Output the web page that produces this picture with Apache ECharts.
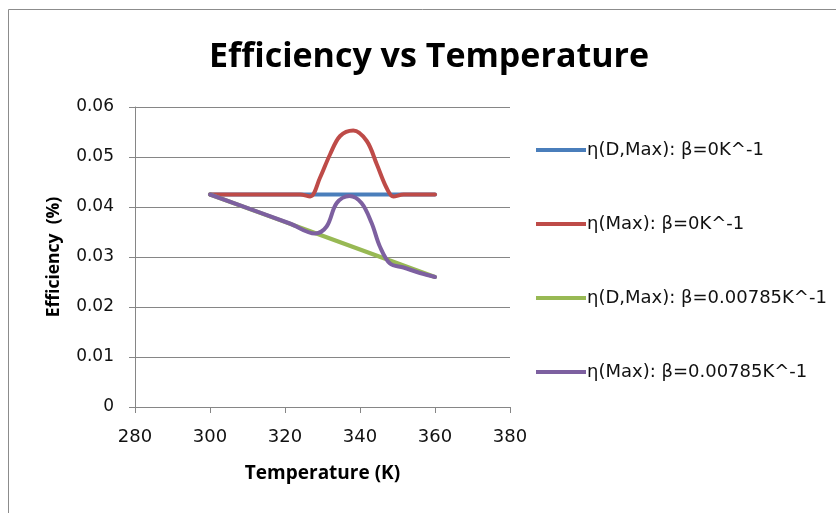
<!DOCTYPE html>
<html><head><meta charset="utf-8">
<script src="https://cdn.jsdelivr.net/npm/echarts@6/dist/echarts.min.js"></script>
<style>html,body{margin:0;padding:0;background:#fff}#c{width:836px;height:513px}</style>
</head><body><div id="c"></div>
<script>
const seriesNames = ['η(D,Max): β=0K^-1','η(Max): β=0K^-1','η(D,Max): β=0.00785K^-1','η(Max): β=0.00785K^-1'];
const colors = ['#4a7ebb','#be4b48','#98b954','#7d60a0'];
const tBlue = [300, 328, 338, 349, 360];
const eBlue = [0.0425, 0.0425, 0.0425, 0.0425, 0.0425];
const tRed = [300, 321, 324, 326.7, 329.3, 332, 334.7, 338.2, 341.8, 344.5, 347.1, 348.9, 351.6, 360];
const eRed = [0.0425, 0.0425, 0.0425, 0.0421, 0.0458, 0.0505, 0.0542, 0.0553, 0.0532, 0.0485, 0.0438, 0.0421, 0.0425, 0.0425];
const tGreen = [300, 328, 348, 360];
const eGreen = [0.0425, 0.0348, 0.0293, 0.0260];
const tPurple = [300, 321.3, 328, 331.1, 333.8, 337.2, 340.4, 343.1, 345.3, 348, 351.6, 356, 360];
const ePurple = [0.0425, 0.0367, 0.0347, 0.0361, 0.0408, 0.0422, 0.0408, 0.0368, 0.0321, 0.0287, 0.0279, 0.0268, 0.0260];
const xTicks = [280, 300, 320, 340, 360, 380];
const yTicks = [0, 0.01, 0.02, 0.03, 0.04, 0.05, 0.06];

const pairs = (t, e) => t.map((x, i) => [x, e[i]]);
const allT = [tBlue, tRed, tGreen, tPurple];
const allE = [eBlue, eRed, eGreen, ePurple];
const order = [0, 1, 2, 3];

const chart = echarts.init(document.getElementById('c'), null, {renderer: 'canvas'});
chart.setOption({
  animation: false,
  backgroundColor: '#fff',
  graphic: [{type: 'rect', shape: {x: 8.5, y: 9.5, width: 900, height: 600}, style: {fill: 'none', stroke: '#8c8c8c', lineWidth: 1}, silent: true}],
  title: {
    text: 'Efficiency vs Temperature', left: 424, top: 35, textAlign: 'center',
    textStyle: {fontFamily: 'Open Sans', fontWeight: 'bold', fontSize: 34, color: '#000'}
  },
  legend: {
    orient: 'vertical', left: 531, top: 136, itemGap: 56, itemWidth: 50, itemHeight: 4,
    icon: 'rect',
    data: seriesNames,
    textStyle: {fontFamily: 'DejaVu Sans', fontSize: 18, color: '#111', padding: [0, 0, 0, -4]}
  },
  grid: {left: 135, right: 326, top: 107, bottom: 106, containLabel: false},
  xAxis: {
    type: 'value', min: xTicks[0], max: xTicks[xTicks.length - 1], interval: 20,
    name: 'Temperature (K)', nameLocation: 'middle', nameGap: 57,
    nameTextStyle: {fontFamily: 'Open Sans', fontWeight: 'bold', fontSize: 19, color: '#000'},
    axisLine: {lineStyle: {color: '#868686', width: 1}},
    axisTick: {show: true, length: 6, lineStyle: {color: '#868686'}},
    axisLabel: {fontFamily: 'DejaVu Sans', fontSize: 18, color: '#111', margin: 21},
    splitLine: {show: false}
  },
  yAxis: {
    type: 'value', min: yTicks[0], max: yTicks[yTicks.length - 1], interval: 0.01,
    name: 'Efficiency  (%)', nameLocation: 'middle', nameGap: 72, nameRotate: 90,
    nameTextStyle: {fontFamily: 'Open Sans', fontWeight: 'bold', fontSize: 17.5, color: '#000'},
    axisLine: {show: true, lineStyle: {color: '#868686', width: 1}},
    axisTick: {show: true, length: 6, lineStyle: {color: '#868686'}},
    axisLabel: {fontFamily: 'DejaVu Sans', fontSize: 17, color: '#111', margin: 21,
      formatter: v => (Math.round(v * 100) / 100).toString()},
    splitLine: {show: true, lineStyle: {color: '#868686', width: 1}}
  },
  series: order.map(i => ({
    name: seriesNames[i], type: 'line', data: pairs(allT[i], allE[i]),
    smooth: 0.35, showSymbol: false, symbol: 'none',
    lineStyle: {color: colors[i], width: 4, cap: 'round', join: 'round'},
    itemStyle: {color: colors[i]}
  }))
});
</script></body></html>
